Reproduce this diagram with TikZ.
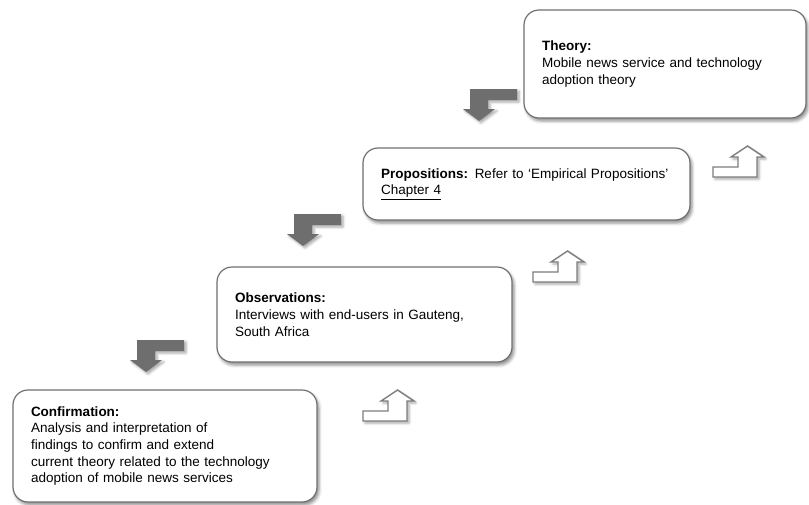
\documentclass[tikz,border=0pt]{standalone}
\usepackage{fontspec}
\setmainfont{Liberation Sans}
\usetikzlibrary{shadows.blur}

\definecolor{boxline}{RGB}{112,112,112}
\definecolor{darkarrow}{RGB}{110,110,110}
\definecolor{lightarrowline}{RGB}{125,125,125}

\tikzset{
  stagebox/.style={draw=boxline, line width=1.2pt, fill=white, rounded corners=15pt,
    inner xsep=18pt, inner ysep=0pt, align=left,
    font=\fontsize{13.5pt}{16.7pt}\selectfont,
    blur shadow={shadow xshift=2pt, shadow yshift=-3pt, shadow blur radius=3pt, shadow opacity=45}},
  downfill/.style={fill=darkarrow,
    blur shadow={shadow xshift=2pt, shadow yshift=-2pt, shadow blur radius=2.5pt, shadow opacity=35}},
  upline/.style={draw=lightarrowline, line width=1.4pt, fill=white, line join=miter,
    blur shadow={shadow xshift=2pt, shadow yshift=-2pt, shadow blur radius=2.5pt, shadow opacity=35}},
  pics/downstep/.style={code={
    \path[downfill] (0,0) -- (47,0) -- (47,11) -- (18,11) -- (18,20) -- (25,20)
      -- (9,32) -- (-7,20) -- (0,20) -- cycle;}},
  pics/upstep/.style={code={
    \path[upline] (0,0) -- (44,0) -- (44,-20) -- (51,-20) -- (34.5,-31) -- (18,-20)
      -- (25,-20) -- (25,-10) -- (0,-10) -- cycle;}},
}

\begin{document}
\begin{tikzpicture}[x=1pt, y=-1pt]
  \useasboundingbox (0,0) rectangle (809,504);

  % stage boxes, from top right down to bottom left
  \node[stagebox, minimum width=282pt, minimum height=108pt, text width=246pt]
    (theory) at (665,64)
    {\textbf{Theory:}\\Mobile news service and technology\\adoption theory};
  \node[stagebox, minimum width=327pt, minimum height=72pt, text width=291pt]
    (props) at (526.5,184)
    {\textbf{Propositions:} Refer to ‘Empirical Propositions’\\\underline{Chapter 4}};
  \node[stagebox, minimum width=295pt, minimum height=95pt, text width=259pt]
    (obs) at (364.5,314.5)
    {\textbf{Observations:}\\Interviews with end-users in Gauteng,\\South Africa};
  \node[stagebox, minimum width=304pt, minimum height=112pt, text width=268pt]
    (conf) at (165,446)
    {\textbf{Confirmation:}\\Analysis and interpretation of\\findings to confirm and extend\\current theory related to the technology\\adoption of mobile news services};

  % descending steps (filled)
  \pic (down1) at (470,89) {downstep};
  \pic (down2) at (294,214) {downstep};
  \pic (down3) at (137,340) {downstep};

  % ascending steps (outlined)
  \pic (up1) at (713,177) {upstep};
  \pic (up2) at (533,282) {upstep};
  \pic (up3) at (363,421) {upstep};
\end{tikzpicture}
\end{document}
